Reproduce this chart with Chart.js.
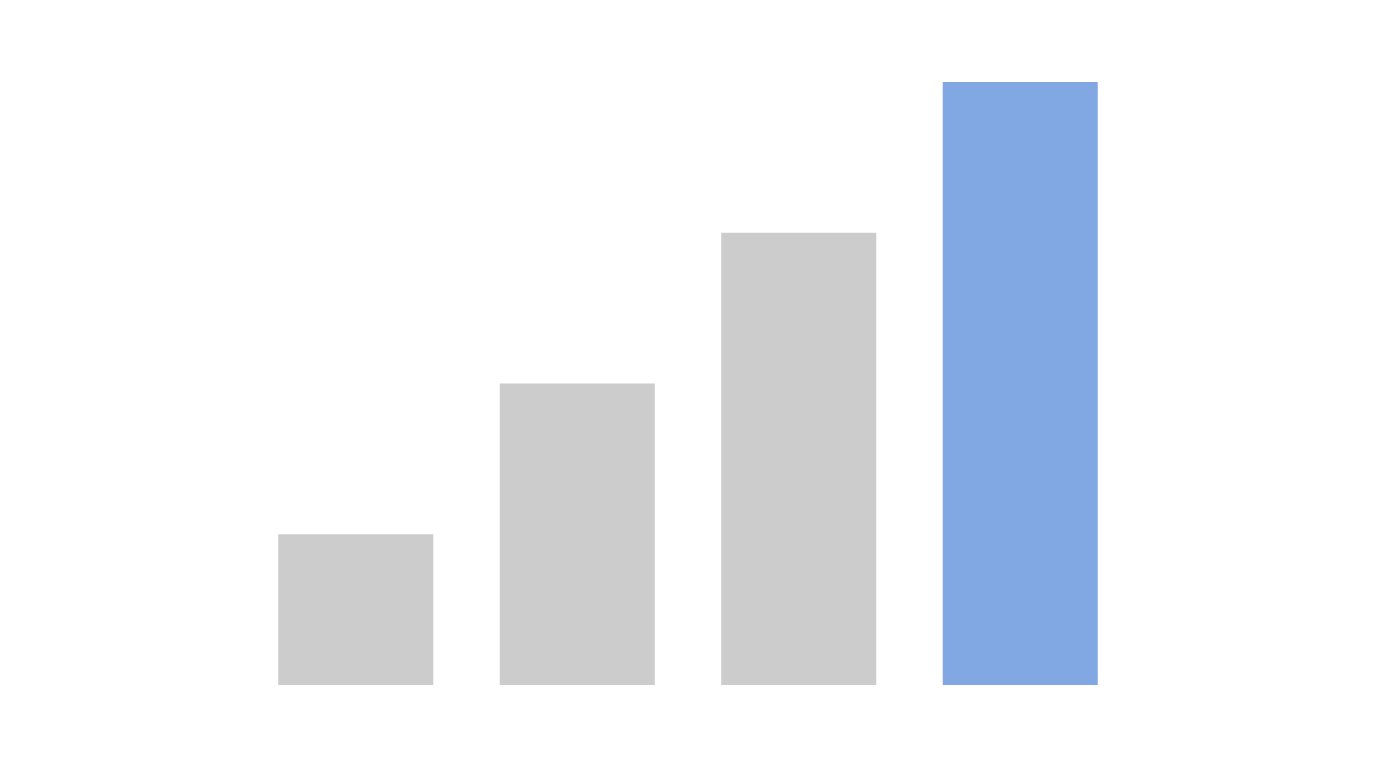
<!DOCTYPE html>
<html>
<head>
<meta charset="utf-8">
<script src="https://cdn.jsdelivr.net/npm/chart.js@4"></script>
<style>
  html, body { margin: 0; padding: 0; background: #ffffff; }
  #wrap { width: 1376px; height: 768px; }
</style>
</head>
<body>
<div id="wrap"><canvas id="barChart"></canvas></div>
<script>
// datos del gráfico
const categorias = ['A', 'B', 'C', 'D'];
const valores = [1, 2, 3, 4];
const colores = ['#cccccc', '#cccccc', '#cccccc', '#82a8e3'];

const ctx = document.getElementById('barChart').getContext('2d');
new Chart(ctx, {
    type: 'bar',
    data: {
        labels: categorias,
        datasets: [{
            data: valores,
            backgroundColor: colores,
            borderWidth: 0,
            barPercentage: 0.7,
            categoryPercentage: 1
        }]
    },
    options: {
        responsive: true,
        maintainAspectRatio: false,
        animation: false,
        layout: { padding: { left: 245, right: 245, top: 82, bottom: 83 } },
        plugins: {
            legend: { display: false },
            tooltip: { enabled: false }
        },
        scales: {
            x: { display: false },
            y: { display: false, min: 0, max: 4 }
        }
    }
});
</script>
</body>
</html>
